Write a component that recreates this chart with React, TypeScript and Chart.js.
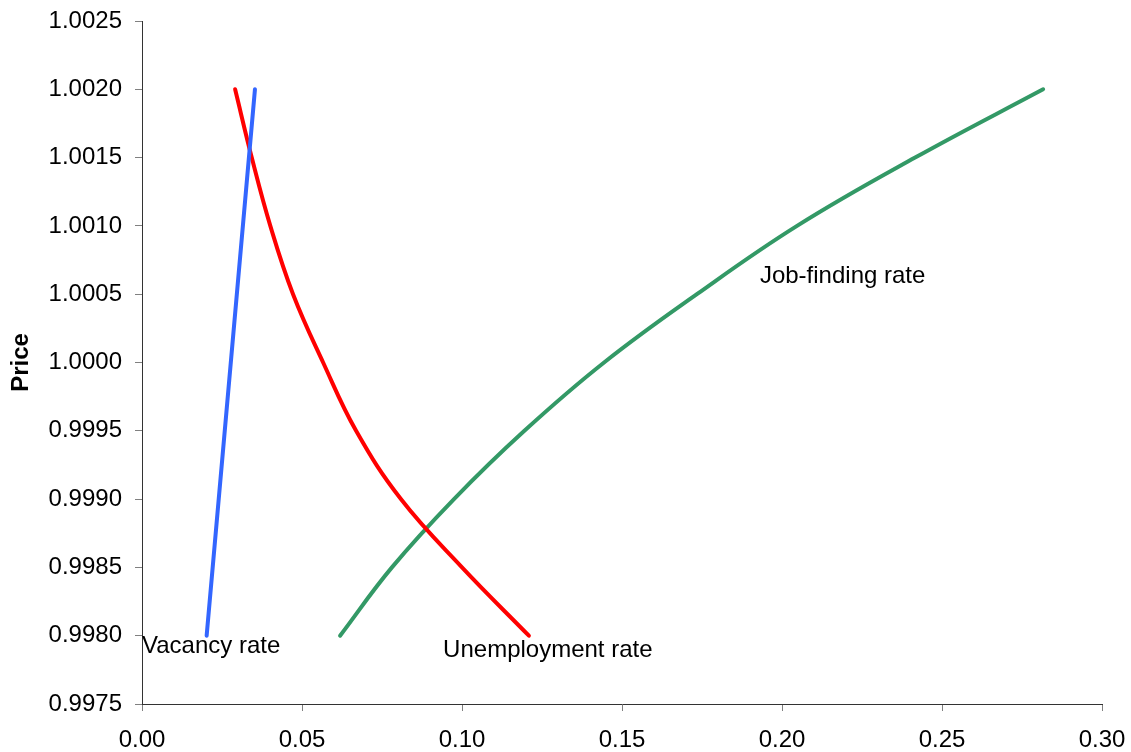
import React, { useEffect, useRef } from "react";
import { Chart, registerables } from "chart.js";

Chart.register(...registerables);

// Price levels (y) shared by the red and green curves
const priceLevels = [0.998, 0.9985, 0.999, 0.9995, 1.0, 1.0005, 1.001, 1.0015, 1.002];
// Unemployment rate at each price level
const unemploymentRate = [0.1209, 0.1, 0.0809, 0.0669, 0.0566, 0.0472, 0.0401, 0.0343, 0.0291];
// Job-finding rate at each price level
const jobFindingRate = [0.0619, 0.0781, 0.0975, 0.1195, 0.1444, 0.1734, 0.2047, 0.2416, 0.2816];
// Vacancy rate (straight line)
const vacancyPrices = [0.998, 1.002];
const vacancyRate = [0.0202, 0.0353];

const xTicks = [0, 0.05, 0.1, 0.15, 0.2, 0.25, 0.3];
const yTicks = [0.9975, 0.998, 0.9985, 0.999, 0.9995, 1.0, 1.0005, 1.001, 1.0015, 1.002, 1.0025];

const curveLabels = [
  { text: "Vacancy rate", x: 0.0, y: 0.99787 },
  { text: "Unemployment rate", x: 0.0941, y: 0.997844 },
  { text: "Job-finding rate", x: 0.1931, y: 1.000582 },
];

const FONT = "'Liberation Sans', Arial, sans-serif";

const toPoints = (xs: number[], ys: number[]) => xs.map((x, i) => ({ x, y: ys[i] }));

export default function App() {
  const ref = useRef<HTMLCanvasElement | null>(null);

  useEffect(() => {
    if (!ref.current) return;
    const labelPlugin = {
      id: "curveLabels",
      afterDatasetsDraw(chart: any) {
        const { ctx, scales } = chart;
        ctx.save();
        ctx.font = `24px ${FONT}`;
        ctx.fillStyle = "#000";
        ctx.textAlign = "left";
        ctx.textBaseline = "alphabetic";
        curveLabels.forEach((l) => {
          ctx.fillText(l.text, scales.x.getPixelForValue(l.x), scales.y.getPixelForValue(l.y));
        });
        ctx.restore();
      },
    };

    const common = {
      showLine: true,
      pointRadius: 0,
      borderWidth: 4,
      borderCapStyle: "round" as const,
      borderJoinStyle: "round" as const,
      fill: false,
    };

    const chart = new Chart(ref.current, {
      type: "scatter",
      data: {
        datasets: [
          {
            ...common,
            label: "Vacancy rate",
            data: toPoints(vacancyRate, vacancyPrices),
            borderColor: "#3366FF",
            backgroundColor: "#3366FF",
          },
          {
            ...common,
            label: "Unemployment rate",
            data: toPoints(unemploymentRate, priceLevels),
            borderColor: "#FF0000",
            backgroundColor: "#FF0000",
            tension: 0.4,
          },
          {
            ...common,
            label: "Job-finding rate",
            data: toPoints(jobFindingRate, priceLevels),
            borderColor: "#339966",
            backgroundColor: "#339966",
            tension: 0.4,
          },
        ],
      },
      options: {
        animation: false,
        responsive: false,
        layout: { padding: { left: 0, top: 21, right: 29, bottom: 0 } },
        plugins: {
          legend: { display: false },
          tooltip: { enabled: false },
        },
        scales: {
          x: {
            type: "linear",
            min: 0,
            max: 0.3,
            afterBuildTicks: (scale: any) => {
              scale.ticks = xTicks.map((v) => ({ value: v }));
            },
            afterFit: (scale: any) => {
              scale.height = 48;
              scale.paddingLeft = 0;
              scale.paddingRight = 0;
            },
            ticks: {
              color: "#000",
              padding: 15,
              font: { family: FONT, size: 24 },
              callback: (v: any) => Number(v).toFixed(2),
              maxRotation: 0,
              autoSkip: false,
            },
            grid: {
              display: true,
              drawOnChartArea: false,
              drawTicks: true,
              tickLength: 7,
              color: "#808080",
            },
            border: { display: true, color: "#333", width: 1 },
          },
          y: {
            type: "linear",
            min: 0.9975,
            max: 1.0025,
            afterBuildTicks: (scale: any) => {
              scale.ticks = yTicks.map((v) => ({ value: v }));
            },
            afterFit: (scale: any) => {
              scale.width = 142;
              scale.paddingTop = 0;
              scale.paddingBottom = 0;
            },
            ticks: {
              color: "#000",
              padding: 13,
              font: { family: FONT, size: 24 },
              callback: (v: any) => Number(v).toFixed(4),
              autoSkip: false,
            },
            grid: {
              display: true,
              drawOnChartArea: false,
              drawTicks: true,
              tickLength: 7,
              color: "#808080",
            },
            border: { display: true, color: "#333", width: 1 },
            title: {
              display: true,
              text: "Price",
              color: "#000",
              font: { family: FONT, size: 24, weight: "bold" },
              padding: { top: 7, bottom: 0 },
            },
          },
        },
      },
      plugins: [labelPlugin],
    });
    return () => chart.destroy();
  }, []);

  return (
    <div style={{ position: "absolute", left: 0, top: 0, width: 1131, height: 752, background: "#fff" }}>
      <canvas ref={ref} width={1131} height={752} />
    </div>
  );
}
